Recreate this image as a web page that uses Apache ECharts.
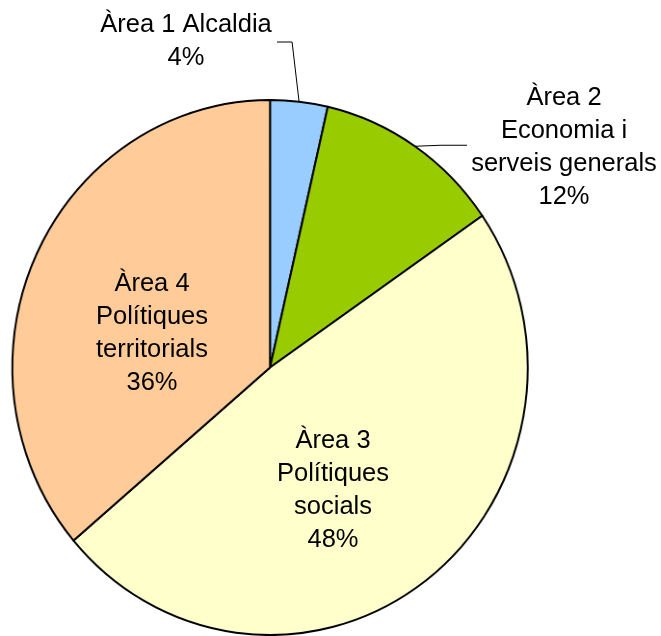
<!DOCTYPE html>
<html>
<head>
<meta charset="utf-8">
<script src="https://cdn.jsdelivr.net/npm/echarts@6/dist/echarts.min.js"></script>
<style>
  html, body { margin: 0; padding: 0; background: #ffffff; }
  #wrap { position: relative; width: 661px; height: 636px; overflow: hidden; }
  /* the pie itself is slightly oval: draw it wider, then squeeze it horizontally */
  #pie { position: absolute; left: 0; top: 0; width: 686px; height: 636px;
         transform: scaleX(0.9634); transform-origin: 0 0; }
  #labels { position: absolute; left: 0; top: 0; width: 661px; height: 636px; pointer-events: none; }
</style>
</head>
<body>
<div id="wrap">
  <div id="pie"></div>
  <div id="labels"></div>
</div>
<script>
// Budget share by area
const categories = [
  'Àrea 1 Alcaldia',
  'Àrea 2\nEconomia i\nserveis generals',
  'Àrea 3\nPolítiques\nsocials',
  'Àrea 4\nPolítiques\nterritorials'
];
const values = [3.6, 11.8, 48.4, 36.2];
const colors = ['#99CCFF', '#99CC00', '#FFFFCC', '#FFCC99'];

// Layout of the oval pie on the page
const squeeze = 0.9634;
const cx = 270, cy = 367.5, ry = 267.5, rx = ry * squeeze;

// Where each label block is centred, and whether it sits outside the pie
const labelCentres = [[186, 41], [564, 147], [333, 490], [152, 333]];
const outside = [true, true, false, false];

const total = values.reduce((a, b) => a + b, 0);
const midAngles = values.map((v, i) => {
  const before = values.slice(0, i).reduce((a, b) => a + b, 0);
  return (before + v / 2) / total * Math.PI * 2;
});

const pieChart = echarts.init(document.getElementById('pie'), null, { renderer: 'canvas' });
pieChart.setOption({
  animation: false,
  series: [{
    type: 'pie',
    center: [cx / squeeze, cy],
    radius: ry,
    startAngle: 90,
    clockwise: true,
    data: categories.map((name, i) => ({ name: name, value: values[i], itemStyle: { color: colors[i] } })),
    itemStyle: { borderColor: '#000000', borderWidth: 2 },
    label: { show: false },
    labelLine: { show: false },
    emphasis: { disabled: true }
  }]
});

const labelChart = echarts.init(document.getElementById('labels'), null, { renderer: 'canvas' });
labelChart.setOption({
  animation: false,
  series: [{
    type: 'pie',
    center: [cx, cy],
    radius: ry,
    startAngle: 90,
    clockwise: true,
    avoidLabelOverlap: false,
    percentPrecision: 0,
    silent: true,
    data: categories.map((name, i) => ({
      name: name,
      value: values[i],
      itemStyle: { color: 'rgba(0,0,0,0)', borderWidth: 0 },
      labelLine: { show: outside[i] }
    })),
    label: {
      show: true,
      position: 'outside',
      formatter: '{b}\n{d}%',
      fontFamily: 'Liberation Sans, Arial, sans-serif',
      fontSize: 25.5,
      lineHeight: 33,
      color: '#000000',
      align: 'center'
    },
    labelLine: {
      show: true,
      length: 10,
      length2: 10,
      lineStyle: { color: '#000000', width: 1 }
    },
    emphasis: { disabled: true },
    labelLayout: function (params) {
      const i = params.dataIndex;
      const c = labelCentres[i];
      const out = { x: c[0], y: c[1], align: 'center', verticalAlign: 'middle' };
      if (outside[i]) {
        const a = midAngles[i];
        const rim = [cx + rx * Math.sin(a), cy - ry * Math.cos(a)];
        if (i === 0) {
          const yy = c[1] + 1;
          out.labelLinePoints = [rim, [rim[0] - 7, yy], [277, yy]];
        } else {
          out.labelLinePoints = [rim, [(rim[0] + 467) / 2, rim[1] - 1], [467, rim[1] - 1]];
        }
      }
      return out;
    }
  }]
});
</script>
</body>
</html>
